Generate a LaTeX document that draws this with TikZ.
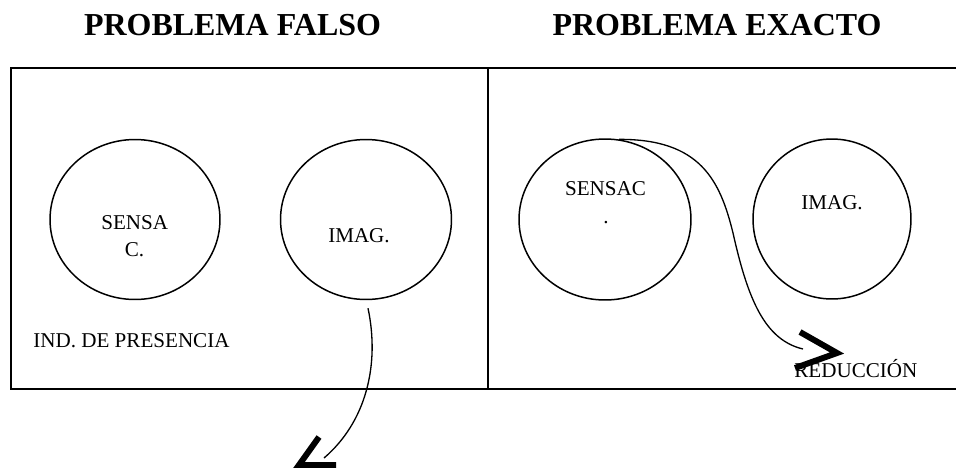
\documentclass[tikz,border=0pt]{standalone}
\usepackage{fontspec}
\setmainfont{Liberation Serif}
\usetikzlibrary{positioning, shapes.geometric}

\begin{document}
\begin{tikzpicture}[x=0.02cm, y=-0.02cm,
        ttl/.style={font=\fontsize{18.2}{22}\selectfont\bfseries, inner sep=0pt, anchor=base},
        lbl/.style={font=\fontsize{12}{14}\selectfont, inner sep=0pt, anchor=base},
        blob/.style={draw, ellipse, line width=0.85pt, inner sep=0pt,
            minimum width=3.4cm, minimum height=3.2cm},
        frame/.style={line width=1.1pt},
        flowline/.style={line width=0.75pt},
        chev/.style={line width=3.4pt, miter limit=10}
    ]
    \useasboundingbox (0,0) rectangle (956,467);

    % === Titles ===
    \node[ttl] (tfalso) at (232.5, 35) {PROBLEMA FALSO};
    \node[ttl] (texacto) at (717, 35) {PROBLEMA EXACTO};

    % === Frame ===
    \draw[frame] (956, 68) -- (11, 68) -- (11, 389) -- (956, 389);
    \draw[frame] (488, 68) -- (488, 389);

    % === Problema falso ===
    \node[blob] (sensA) at (135, 219.5) {};
    \node[blob, minimum width=3.42cm] (imagA) at (366, 219.5) {};
    \node[lbl] (sensAt) at (134.7, 229) {SENSA};
    \node[lbl] (sensAc) at (134.5, 256.5) {C.};
    \node[lbl] (imagAt) at (359, 242) {IMAG.};
    \node[lbl, anchor=base west] (presencia) at (33, 347) {IND. DE PRESENCIA};

    \coordinate (falsoend) at (324, 458);
    \draw[flowline] ([shift={(2,8)}]imagA.south)
        .. controls (380, 365) and (366, 422) .. (falsoend);
    \draw[chev] (319, 437) -- (299, 465) -- (336, 465);

    % === Problema exacto ===
    \node[blob, minimum width=3.44cm, minimum height=3.22cm] (sensB) at (605, 219.5) {};
    \node[blob, minimum width=3.16cm] (imagB) at (832, 219) {};
    \node[lbl] (sensBt) at (605.5, 195) {SENSAC};
    \node[lbl] (sensBd) at (606, 223) {.};
    \node[lbl] (imagBt) at (832, 209) {IMAG.};
    \node[lbl, anchor=base west] (reduccion) at (794, 377) {REDUCCIÓN};

    \coordinate (exactoend) at (803, 349);
    \draw[flowline] (sensB.80)
        .. controls (700, 139) and (720, 180) .. (733, 233)
        .. controls (748, 300) and (765, 340) .. (exactoend);
    \draw[chev] (800, 332) -- (837, 353) -- (795, 368);

\end{tikzpicture}
\end{document}
